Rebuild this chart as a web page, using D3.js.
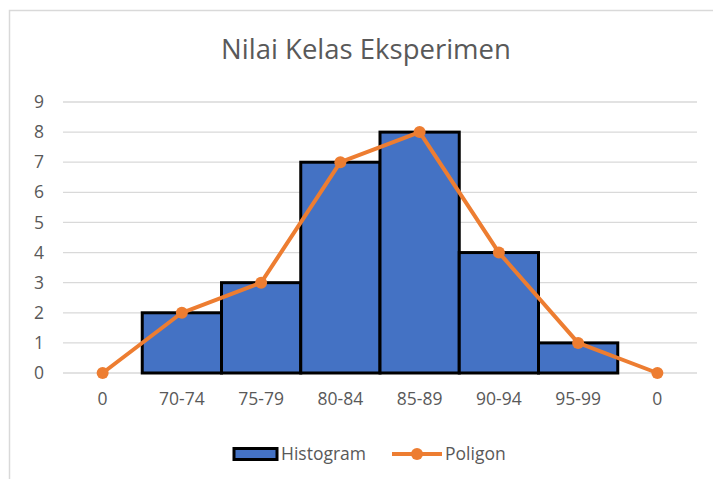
<!DOCTYPE html>
<html><head><meta charset="utf-8">
<script src="https://cdn.jsdelivr.net/npm/d3@7"></script>
<style>body{margin:0;background:#fff}svg{display:block}</style>
</head><body>
<script>
const categories = ["0","70-74","75-79","80-84","85-89","90-94","95-99","0 "];
const histogram = [0,2,3,7,8,4,1,0];
const poligon = [0,2,3,7,8,4,1,0];
const yTicks = [0,1,2,3,4,5,6,7,8,9];

(function(){
const W=713,H=479;
const svg=d3.select("body").append("svg").attr("width",W).attr("height",H);
const font="'Open Sans', 'Liberation Sans', sans-serif";
svg.append("rect").attr("x",9.5).attr("y",10.5).attr("width",W+10).attr("height",H+10)
  .attr("fill","#fff").attr("stroke","#d9d9d9").attr("stroke-width",1.5);

const pLeft=63,pRight=697,pTop=102,pBottom=373;
const x=d3.scaleBand().domain(d3.range(categories.length)).range([pLeft,pRight]).padding(0);
const y=d3.scaleLinear().domain([0,9]).range([pBottom,pTop]);

svg.append("text").attr("x",366).attr("y",59).attr("text-anchor","middle")
  .attr("font-family",font).attr("font-size",27.5).attr("fill","#595959").text("Nilai Kelas Eksperimen");

const g=svg.append("g");
g.selectAll(".grid").data(yTicks).join("line")
  .attr("x1",pLeft).attr("x2",pRight).attr("y1",d=>y(d)).attr("y2",d=>y(d))
  .attr("stroke","#d9d9d9").attr("stroke-width",1.3);
g.selectAll(".yl").data(yTicks).join("text")
  .attr("x",39).attr("y",d=>y(d)).attr("dy","0.35em").attr("text-anchor","middle")
  .attr("font-family",font).attr("font-size",17.5).attr("fill","#595959").text(d=>d);

g.selectAll(".bar").data(histogram).join("rect")
  .attr("x",(d,i)=>x(i)).attr("width",x.bandwidth())
  .attr("y",d=>y(d)).attr("height",d=>y(0)-y(d))
  .attr("fill","#4472C4").attr("stroke","#000").attr("stroke-width",d=>d>0?3:0);

const line=d3.line().x((d,i)=>x(i)+x.bandwidth()/2).y(d=>y(d));
g.append("path").datum(poligon).attr("d",line).attr("fill","none")
  .attr("stroke","#ED7D31").attr("stroke-width",4).attr("stroke-linejoin","round");
g.selectAll(".pt").data(poligon).join("circle")
  .attr("cx",(d,i)=>x(i)+x.bandwidth()/2).attr("cy",d=>y(d)).attr("r",6).attr("fill","#ED7D31");

g.selectAll(".xl").data(categories).join("text")
  .attr("x",(d,i)=>x(i)+x.bandwidth()/2).attr("y",399).attr("dy","0.35em").attr("text-anchor","middle")
  .attr("font-family",font).attr("font-size",17.5).attr("fill","#595959").text(d=>d.trim());

const lg=svg.append("g");
lg.append("rect").attr("x",234).attr("y",448.5).attr("width",43).attr("height",11)
  .attr("fill","#4472C4").attr("stroke","#000").attr("stroke-width",3);
lg.append("text").attr("x",281).attr("y",454).attr("dy","0.35em")
  .attr("font-family",font).attr("font-size",17.5).attr("fill","#595959").text("Histogram");
lg.append("line").attr("x1",392).attr("x2",442).attr("y1",454).attr("y2",454)
  .attr("stroke","#ED7D31").attr("stroke-width",4);
lg.append("circle").attr("cx",417).attr("cy",454).attr("r",6).attr("fill","#ED7D31");
lg.append("text").attr("x",445).attr("y",454).attr("dy","0.35em")
  .attr("font-family",font).attr("font-size",17.5).attr("fill","#595959").text("Poligon");
})();
</script>
</body></html>
